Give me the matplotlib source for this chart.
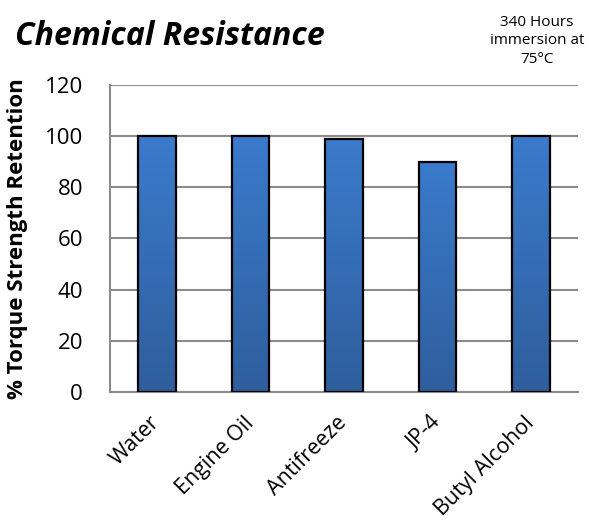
import matplotlib
matplotlib.use("Agg")
import matplotlib.pyplot as plt
import numpy as np
from matplotlib.colors import LinearSegmentedColormap

chemicals = ["Water", "Engine Oil", "Antifreeze", "JP-4", "Butyl Alcohol"]
retention = [100, 100, 99, 90, 100]
yticks = [0, 20, 40, 60, 80, 100, 120]

plt.rcParams['font.family'] = ['Open Sans', 'DejaVu Sans']

fig = plt.figure(figsize=(5.89, 5.23), dpi=100)
ax = fig.add_axes([0.1868, 0.2505, 0.7945, 0.587])

# bar fill: lighter blue at top, darker at bottom
grad = LinearSegmentedColormap.from_list("barblue", ["#2F5E9C", "#3A7BCC"])
width = 0.4
x = np.arange(len(chemicals))
for xi, v in zip(x, retention):
    ax.imshow(np.linspace(0, 1, 100).reshape(-1, 1), cmap=grad, origin='lower',
              extent=[xi - width / 2, xi + width / 2, 0, v], aspect='auto', zorder=3)
ax.bar(x, retention, width=width, facecolor='none', edgecolor='black', linewidth=1.6, zorder=4)

ax.set_xlim(-0.5, len(chemicals) - 0.5)
ax.set_ylim(0, 120)
ax.set_yticks(yticks)
ax.tick_params(axis='y', labelsize=16, length=0, pad=19.5)
ax.set_xticks(x)
ax.set_xticklabels(chemicals, rotation=45, ha='right', va='center', rotation_mode='anchor', fontsize=15.5)
ax.tick_params(axis='x', length=0, pad=20)

ax.grid(axis='y', color='#8C8C8C', linewidth=1.5, zorder=0)
ax.set_axisbelow(True)
for s in ['top', 'right']:
    ax.spines[s].set_visible(False)
for s in ['left', 'bottom']:
    ax.spines[s].set_color('#8C8C8C')
    ax.spines[s].set_linewidth(1.5)

ax.set_ylabel("% Torque Strength Retention", fontsize=16, fontweight='bold')
ax.yaxis.set_label_coords(-0.175, 0.5)

fig.text(15 / 589, 1 - 45 / 523, "Chemical Resistance", fontsize=23, fontweight='bold',
         fontstyle='italic', ha='left', va='baseline')
fig.text(537 / 589, 1 - 41 / 523, "340 Hours\nimmersion at\n75°C", fontsize=11,
         ha='center', va='center', linespacing=1.35)

fig.savefig("out.png", dpi=100)
